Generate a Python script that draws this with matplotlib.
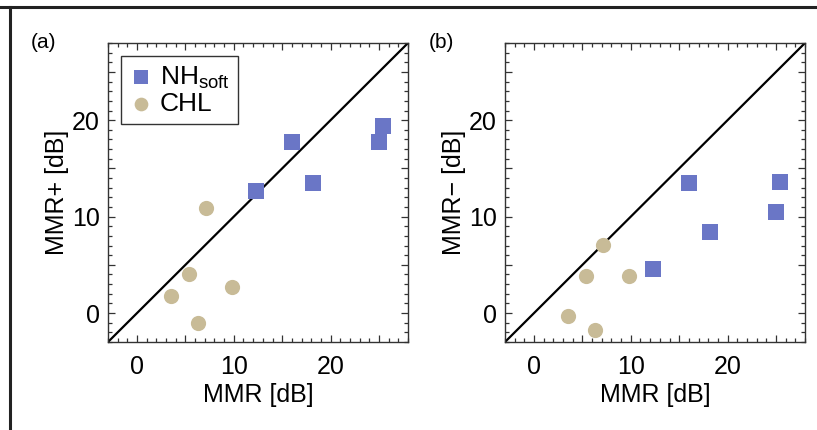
import matplotlib
matplotlib.use('Agg')
import matplotlib.pyplot as plt
from matplotlib.ticker import MultipleLocator, FuncFormatter
from matplotlib.lines import Line2D

plt.rcParams['font.family'] = ['Liberation Sans', 'DejaVu Sans']
plt.rcParams['mathtext.fontset'] = 'custom'
plt.rcParams['mathtext.rm'] = 'Liberation Sans'
plt.rcParams['mathtext.it'] = 'Liberation Sans'

# data
nh_mmr = [12.3, 16.0, 18.2, 25.0, 25.4]
nh_plus = [12.7, 17.7, 13.5, 17.7, 19.4]
nh_minus = [4.6, 13.5, 8.4, 10.5, 13.6]

chl_mmr = [3.5, 5.4, 6.3, 7.1, 9.8]
chl_plus = [1.8, 4.1, -1.0, 10.9, 2.7]
chl_minus = [-0.3, 3.8, -1.8, 7.1, 3.8]

lims = (-3, 28)
sq_color = '#6a76c6'
ci_color = '#c8bb97'

fig = plt.figure(figsize=(8.17, 4.30), dpi=100)

# frame around the figure (top and left edge only visible)
fig.add_artist(Line2D([0, 1], [1 - 7 / 430, 1 - 7 / 430], color='#222222', lw=2.2,
                      transform=fig.transFigure))
fig.add_artist(Line2D([10 / 817, 10 / 817], [0, 1 - 7 / 430], color='#222222', lw=2.2,
                      transform=fig.transFigure))

panels = [
    (108, nh_plus, chl_plus, 'MMR+ [dB]', '(a)', True),
    (505, nh_minus, chl_minus, 'MMR\u2212 [dB]', '(b)', False),
]

for left, nh_y, chl_y, ylab, tag, show_legend in panels:
    ax = fig.add_axes([left / 817, 88 / 430, 300 / 817, 299 / 430])
    ax.plot(lims, lims, color='black', lw=1.6, zorder=2)
    ax.scatter(nh_mmr, nh_y, marker='s', s=125, color=sq_color, lw=0, zorder=3,
               label=r'NH$_{\mathrm{soft}}$')
    ax.scatter(chl_mmr, chl_y, marker='o', s=120, color=ci_color, lw=0, zorder=3,
               label='CHL')
    ax.set_xlim(lims)
    ax.set_ylim(lims)
    for a in (ax.xaxis, ax.yaxis):
        a.set_major_locator(MultipleLocator(5))
        a.set_minor_locator(MultipleLocator(1))
        a.set_major_formatter(FuncFormatter(lambda v, p: f'{v:.0f}' if v % 10 == 0 else ''))
    ax.tick_params(which='both', direction='in', top=True, right=True, width=0.9,
                   color='#333333')
    ax.tick_params(which='major', length=5, labelsize=18)
    ax.tick_params(axis='x', which='major', pad=9)
    ax.tick_params(axis='y', which='major', pad=6)
    ax.tick_params(which='minor', length=3)
    for sp in ax.spines.values():
        sp.set_linewidth(1.0)
        sp.set_color('#333333')
    ax.set_xlabel('MMR [dB]', fontsize=18, labelpad=3)
    ax.set_ylabel(ylab, fontsize=18, labelpad=2)
    fig.text((left - 64) / 817, 1 - 43 / 430, tag, fontsize=15, ha='center', va='center')
    if show_legend:
        leg = ax.legend(loc='upper left', bbox_to_anchor=(0.045, 0.955), fontsize=19,
                        frameon=True, fancybox=False, edgecolor='black',
                        handletextpad=0.25, borderpad=0.3, labelspacing=0.05,
                        handlelength=0.9, borderaxespad=0, markerscale=0.9)
        leg.get_frame().set_linewidth(1.0)

fig.savefig('out.png', dpi=100)
